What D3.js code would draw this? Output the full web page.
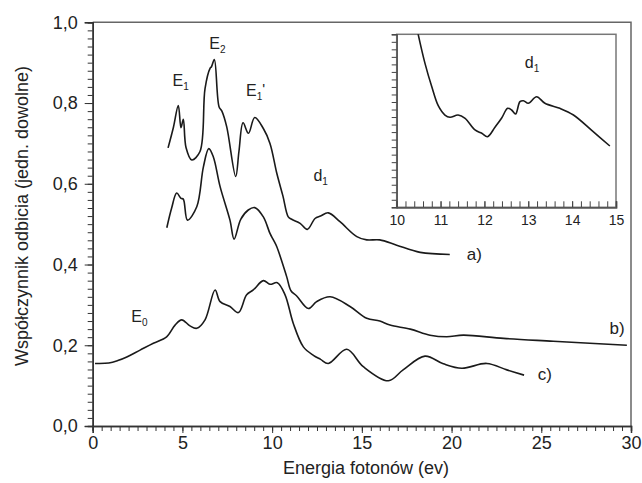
<!DOCTYPE html>
<html><head><meta charset="utf-8">
<script src="https://cdn.jsdelivr.net/npm/d3@7"></script>
<style>
body{margin:0;background:#fff}
text{font-family:Arial,"Liberation Sans",sans-serif;fill:#222}
</style></head>
<body><svg id="chart" width="642" height="483"></svg>
<script>
// ---- data ----
const energyA = [4.2,4.5,4.77,4.92,5.05,5.2,5.52,5.98,6.26,6.54,6.62,6.78,7.04,7.2,7.47,7.97,8.15,8.38,8.68,9.03,9.51,9.88,10.26,10.6,10.9,11.09,11.56,11.96,12.39,12.7,13.13,13.78,14.72,15.27,16.0,16.94,18.25,19.9];
const reflA   = [0.689,0.74,0.794,0.739,0.76,0.69,0.659,0.68,0.836,0.886,0.89,0.908,0.791,0.78,0.741,0.618,0.68,0.751,0.725,0.764,0.737,0.70,0.626,0.57,0.518,0.512,0.502,0.487,0.514,0.52,0.528,0.506,0.469,0.461,0.461,0.448,0.43,0.425];

const energyB = [4.13,4.4,4.68,4.92,5.05,5.28,5.8,6.17,6.47,6.72,7.1,7.65,7.88,8.25,8.67,9.03,9.51,9.88,10.07,10.26,10.81,11.05,11.37,12.02,12.48,13.23,14.34,15.27,16.0,16.57,17.7,18.8,19.73,20.66,22.9,25.67,29.77];
const reflB   = [0.491,0.54,0.577,0.564,0.562,0.51,0.543,0.642,0.687,0.667,0.593,0.51,0.463,0.512,0.535,0.541,0.518,0.477,0.461,0.444,0.37,0.335,0.322,0.291,0.308,0.32,0.296,0.267,0.26,0.25,0.24,0.225,0.221,0.225,0.217,0.21,0.20];

const energyC = [0.13,0.9,1.4,1.9,2.64,3.38,4.12,4.59,4.96,5.42,5.8,6.26,6.82,7.1,7.65,8.12,8.58,8.95,9.51,9.88,10.29,10.72,11.18,11.74,12.3,12.7,13.13,14.16,15.08,16.48,17.3,18.52,19.54,20.57,21.96,23.08,24.04];
const reflC   = [0.155,0.156,0.162,0.171,0.188,0.205,0.221,0.25,0.263,0.248,0.242,0.263,0.337,0.308,0.296,0.281,0.325,0.337,0.36,0.351,0.355,0.325,0.254,0.196,0.175,0.165,0.155,0.19,0.147,0.112,0.139,0.173,0.154,0.143,0.155,0.139,0.126];

// inset: detail of curve a) between 10 and 15 eV
const energyInset = [10.42,10.49,10.645,10.8,10.95,11.1,11.215,11.4,11.56,11.785,11.94,12.07,12.24,12.39,12.53,12.62,12.71,12.81,12.89,13.0,13.19,13.38,13.72,14.03,14.48,14.86];
const reflInset   = [0.65,0.63,0.5914,0.5603,0.5347,0.5227,0.5197,0.5227,0.5183,0.5028,0.4984,0.4939,0.5064,0.5183,0.5316,0.5294,0.524,0.5404,0.5417,0.5383,0.547,0.5383,0.5316,0.5227,0.5005,0.4815];

const xTickLabels = [0,5,10,15,20,25,30];
const yTickLabels = [0,0.2,0.4,0.6,0.8,1.0];
const insetTickLabels = [10,11,12,13,14,15];

const seriesNames = ["a)","b)","c)"];
const peakLabels = [
  {main:"E",sub:"1",extra:""},
  {main:"E",sub:"2",extra:""},
  {main:"E",sub:"1",extra:"'"},
  {main:"E",sub:"0",extra:""},
  {main:"d",sub:"1",extra:""}
];

// ---- layout ----
const svg = d3.select("#chart");
const x = d3.scaleLinear().domain([0,30]).range([92.7,631]);
const y = d3.scaleLinear().domain([0,1]).range([426,22.3]);
const fmt = d => d.toFixed(1).replace(".", ",");

// frame top/right
svg.append("path")
  .attr("d", `M${x(0)},${y(1)}H${x(30)}V${y(0)}`)
  .attr("fill","none").attr("stroke","#666").attr("stroke-width",1.5);

const gxMinor = svg.append("g").attr("transform",`translate(0,${y(0)})`)
  .call(d3.axisBottom(x).tickValues(d3.range(0,30.001,0.5)).tickSize(5).tickFormat(""));
const gx = svg.append("g").attr("transform",`translate(0,${y(0)})`)
  .call(d3.axisBottom(x).tickValues(xTickLabels).tickSize(7).tickPadding(3).tickFormat(d3.format("d")));
const gyMinor = svg.append("g").attr("transform",`translate(${x(0)},0)`)
  .call(d3.axisLeft(y).tickValues(d3.range(0,1.0001,0.02)).tickSize(5).tickFormat(""));
const gy = svg.append("g").attr("transform",`translate(${x(0)},0)`)
  .call(d3.axisLeft(y).tickValues(yTickLabels).tickSize(8).tickPadding(7).tickFormat(fmt));
[gxMinor,gx,gyMinor,gy].forEach(g=>{
  g.selectAll("path.domain").attr("stroke","#333").attr("stroke-width",1.5);
  g.selectAll("line").attr("stroke","#333").attr("stroke-width",1);
  g.selectAll("text").attr("font-size",18).attr("fill","#222")
    .attr("font-family","Arial, 'Liberation Sans', sans-serif");
});

// curves
const line = d3.line().x(d=>x(d[0])).y(d=>y(d[1])).curve(d3.curveCatmullRom.alpha(0.5));
const series = [
  d3.zip(energyA, reflA),
  d3.zip(energyB, reflB),
  d3.zip(energyC, reflC)
];
svg.selectAll("path.curve").data(series).join("path")
  .attr("class","curve")
  .attr("d", line)
  .attr("fill","none").attr("stroke","#1a1a1a").attr("stroke-width",1.6);

// series labels
const seriesLabelPos = [[20.85,0.41],[28.8,0.228],[24.8,0.115]];
svg.selectAll("text.slab").data(seriesNames).join("text")
  .attr("class","slab")
  .attr("x",(d,i)=>x(seriesLabelPos[i][0]))
  .attr("y",(d,i)=>y(seriesLabelPos[i][1]))
  .attr("font-size",17)
  .text(d=>d);

// peak labels
const peakPos = [[4.45,0.843],[6.5,0.934],[8.55,0.817],[2.15,0.257],[12.3,0.608]];
peakLabels.forEach((p,i)=>{
  const t = svg.append("text").attr("x",x(peakPos[i][0])).attr("y",y(peakPos[i][1])).attr("font-size",16);
  t.append("tspan").text(p.main);
  t.append("tspan").attr("font-size",10).attr("dy",4).text(p.sub);
  if(p.extra) t.append("tspan").attr("dy",-6).attr("font-size",15).text(p.extra);
});

// ---- inset ----
const ix = d3.scaleLinear().domain([10,15]).range([396.7,616]);
const iy = d3.scaleLinear().domain([0.40,0.63]).range([207.3,34.3]);
svg.append("defs").append("clipPath").attr("id","clipInset")
  .append("rect").attr("x",ix(10)).attr("y",iy(0.63)).attr("width",ix(15)-ix(10)).attr("height",iy(0.40)-iy(0.63));
svg.append("rect").attr("x",ix(10)).attr("y",iy(0.63))
  .attr("width",ix(15)-ix(10)).attr("height",iy(0.40)-iy(0.63))
  .attr("fill","#fff").attr("stroke","#777").attr("stroke-width",1.5);
const giy = svg.append("g").attr("transform",`translate(${ix(10)},0)`)
  .call(d3.axisLeft(iy).tickValues(d3.range(0.40,0.6301,0.01)).tickSize(5).tickFormat(""));
const gixMinor = svg.append("g").attr("transform",`translate(0,${iy(0.40)})`)
  .call(d3.axisBottom(ix).tickValues(d3.range(10,15.001,0.2)).tickSize(-6).tickFormat(""));
const gix = svg.append("g").attr("transform",`translate(0,${iy(0.40)})`)
  .call(d3.axisBottom(ix).tickValues(insetTickLabels).tickSize(-6).tickPadding(8).tickFormat(d3.format("d")));
[giy,gixMinor,gix].forEach(g=>{
  g.selectAll("path.domain").attr("stroke","#555").attr("stroke-width",1.5);
  g.selectAll("line").attr("stroke","#444").attr("stroke-width",1);
  g.selectAll("text").attr("font-size",14).attr("fill","#222")
    .attr("font-family","Arial, 'Liberation Sans', sans-serif");
});
const iline = d3.line().x(d=>ix(d[0])).y(d=>iy(d[1])).curve(d3.curveCatmullRom.alpha(0.5));
svg.append("path").datum(d3.zip(energyInset, reflInset))
  .attr("d", iline).attr("clip-path","url(#clipInset)")
  .attr("fill","none").attr("stroke","#1a1a1a").attr("stroke-width",1.6);
const dl = svg.append("text").attr("x",ix(12.92)).attr("y",iy(0.585)).attr("font-size",16);
dl.append("tspan").text("d");
dl.append("tspan").attr("font-size",10).attr("dy",4).text("1");

// axis titles
svg.append("text").attr("x",366).attr("y",474).attr("text-anchor","middle")
  .attr("font-size",18).text("Energia fotonów (ev)");
svg.append("text").attr("transform","translate(28,216) rotate(-90)").attr("text-anchor","middle")
  .attr("font-size",18).text("Współczynnik odbicia (jedn. dowolne)");
</script>
</body></html>
